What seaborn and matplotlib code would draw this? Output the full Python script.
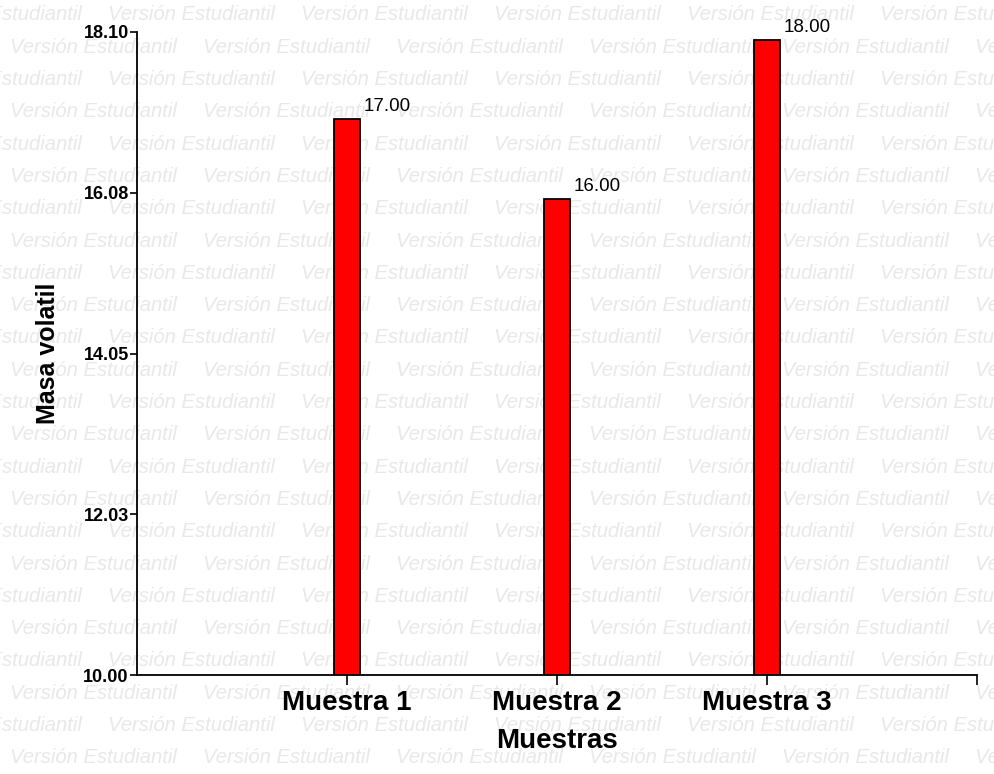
import numpy as np
import matplotlib
matplotlib.use("Agg")
import matplotlib.pyplot as plt
import seaborn as sns

muestras = ["Muestra 1", "Muestra 2", "Muestra 3"]
masa = [17.00, 16.00, 18.00]
y_ticks = [10.00, 12.025, 14.05, 16.075, 18.10]
y_tick_labels = ["10.00", "12.03", "14.05", "16.08", "18.10"]
watermark = "Versión Estudiantil"

sns.set_style("ticks")
plt.rcParams["font.family"] = ["Liberation Sans", "DejaVu Sans"]
plt.rcParams["text.color"] = "black"
plt.rcParams["axes.labelcolor"] = "black"
plt.rcParams["xtick.color"] = "black"
plt.rcParams["ytick.color"] = "black"

fig = plt.figure(figsize=(9.95, 7.74), dpi=100, facecolor="white")
ax = fig.add_axes([137 / 995, 1 - 675 / 774, 840 / 995, 643 / 774])
ax.patch.set_alpha(0)

# watermark rows behind everything
W, H = 995, 774
period = 193
for k in range(24):
    y = 15 + k * 32.3
    x0 = 10 if k % 2 else 108 - period
    x = x0
    while x < W:
        fig.text(x / W, 1 - y / H, watermark, fontsize=14.6, style="italic",
                 color="#e8e8e8", va="center", ha="left", zorder=-5)
        x += period

sns.barplot(x=muestras, y=masa, color="#ff0000", edgecolor="black",
            linewidth=1.3, width=0.12, saturation=1, ax=ax)

ax.set_xlim(-1, 3)
ax.set_ylim(10, 18.10)
ax.set_yticks(y_ticks)
ax.set_yticklabels(y_tick_labels, fontsize=13, fontweight="bold")
ax.set_xticks(range(len(muestras)))
ax.set_xticklabels(muestras, fontsize=20, fontweight="bold")
ax.set_xticks([3], minor=True)
ax.tick_params(axis="y", length=5, width=1.2, pad=1)
ax.tick_params(axis="x", which="both", length=7, width=1.2, pad=4)

for i, v in enumerate(masa):
    ax.annotate(f"{v:.2f}", xy=(i + 0.06, v), xytext=(3, 3),
                textcoords="offset points", ha="left", va="bottom", fontsize=13.5)

ax.set_xlabel("Muestras", fontsize=20, fontweight="bold")
ax.set_ylabel("Masa volatil", fontsize=18, fontweight="bold")
ax.yaxis.set_label_coords(-0.092, 0.5)
ax.xaxis.set_label_coords(0.5, -0.083)

sns.despine(ax=ax)
for s in ["left", "bottom"]:
    ax.spines[s].set_linewidth(1.3)
    ax.spines[s].set_color("black")

fig.savefig("out.png", dpi=100, facecolor="white")
